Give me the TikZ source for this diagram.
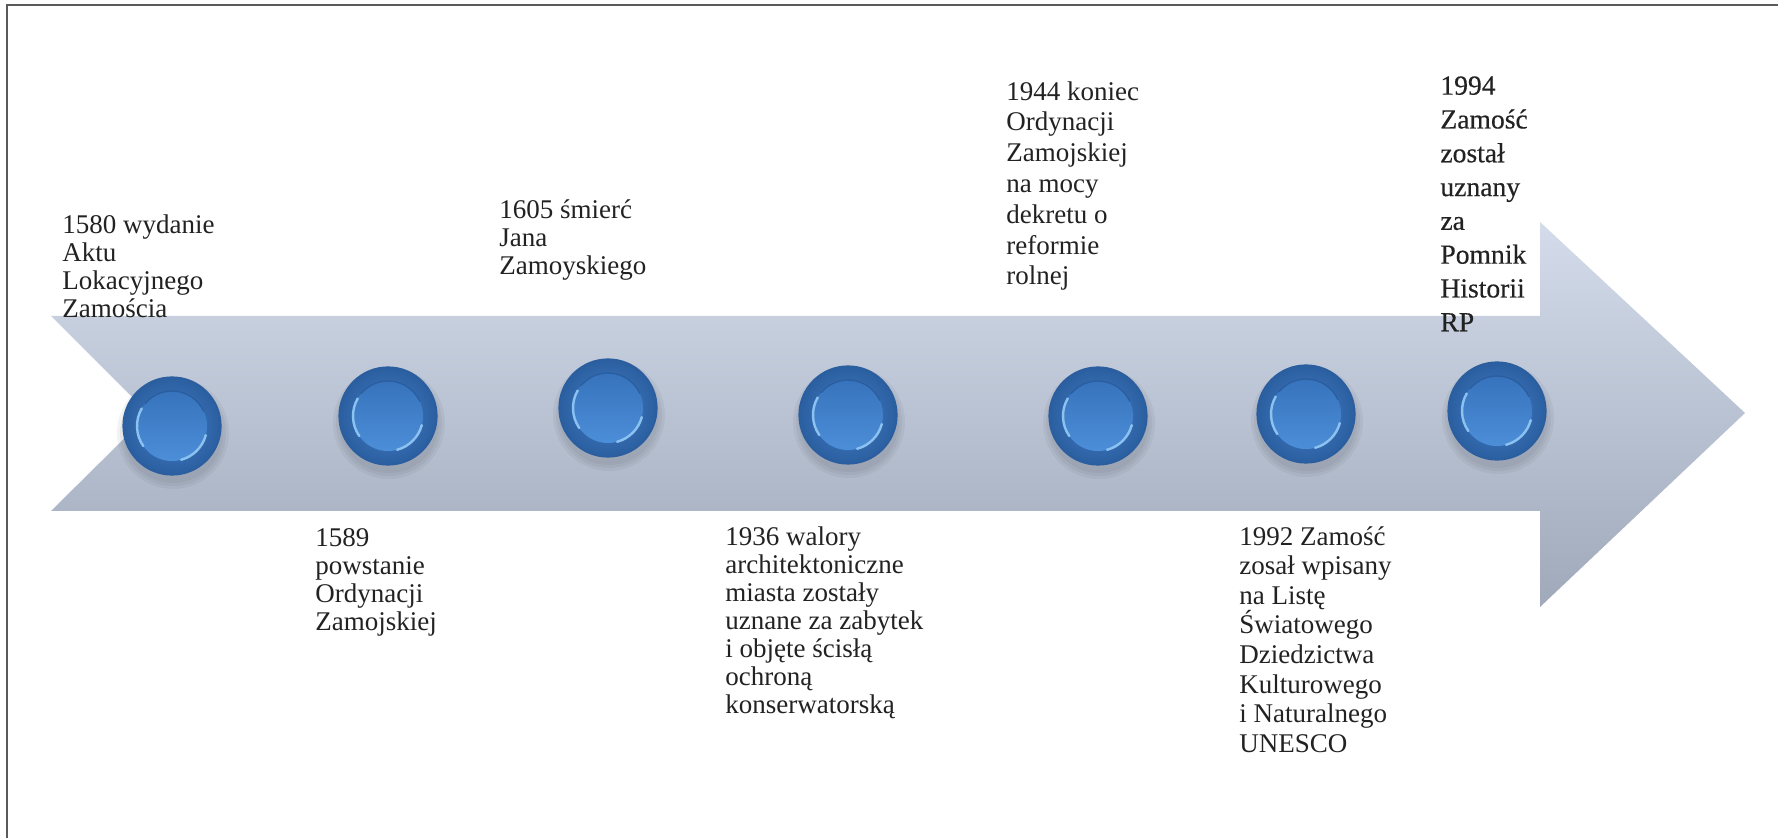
\documentclass[tikz,border=0pt]{standalone}
\usepackage{fontspec}
\setmainfont{Liberation Serif}
\usepackage{tikz}
\definecolor{tlcolor0}{HTML}{D4DCEB}
\definecolor{tlcolor1}{HTML}{9FA9BA}
\definecolor{tlcolor2}{HTML}{4784CD}
\definecolor{tlcolor3}{HTML}{2A5E9F}
\definecolor{tlcolor4}{HTML}{3673BC}
\definecolor{tlcolor5}{HTML}{4D8ED8}
\definecolor{tlcolor6}{HTML}{8CC2F0}
\definecolor{tlcolor7}{HTML}{222222}
\definecolor{tlcolor8}{HTML}{5A5A5A}
\definecolor{tlcolor9}{HTML}{4A4F5A}
\tikzset{
  frame_line/.style={draw=tlcolor8, line width=1pt},
  event_label/.style={anchor=north west, align=left, inner sep=0pt, text=tlcolor7, font=\fontsize{13.5pt}{#1}\selectfont, execute at begin node=\strut},
  event_label/.default=14pt,
  event_label_bold/.style={event_label=#1, font=\fontsize{13.8pt}{#1}\selectfont\addfontfeature{FakeBold=0.4}},
  dot_outer/.style={circle, minimum size=49pt, inner sep=0pt, draw=tlcolor3, line width=0.6pt, inner color=tlcolor2, outer color=tlcolor3},
  dot_inner/.style={top color=tlcolor4, bottom color=tlcolor5},
  dot_shine/.style={draw=tlcolor6, line width=1.2pt, line cap=round},
  dot_rim/.style={draw=tlcolor3, line width=0.7pt, line cap=round},
  dot_shadow/.style={fill=tlcolor9, opacity=0.07}
}

\begin{document}
\begin{tikzpicture}[x=0.5pt, y=-0.5pt]
\useasboundingbox (0,0) rectangle (1778,838);
\fill[white] (0,0) rectangle (1778,838);
% frame
\draw[frame_line] (1778,5) -- (7,5) -- (7,838);
% arrow
\shade[top color=tlcolor0, bottom color=tlcolor1]
  (51,316) -- (1540,316) -- (1540,222) -- (1745,413) -- (1540,607) -- (1540,511) -- (51,511) -- (149,414) -- cycle;
% dots
\foreach \n/\x/\y in {1/172/426, 2/388/416, 3/608/408, 4/848/415, 5/1098/416, 6/1306/414, 7/1497/411} {
  \begin{scope}[shift={(\x,\y)}, x=0.5pt, y=0.5pt]
    \foreach \r in {56,53,50} {\fill[dot_shadow] (1,-7) circle (\r);}
    \node[dot_outer] (dot_\n) at (0,0) {};
    \shade[dot_inner] (0,0) circle (35);
    \draw[dot_rim] (25:35) arc[start angle=25, end angle=140, radius=35];
    \draw[dot_shine] (150:35) arc[start angle=150, end angle=215, radius=35];
    \draw[dot_shine] (285:35) arc[start angle=285, end angle=345, radius=35];
  \end{scope}
}
% labels above
\node[event_label] (lbl_1580) at (62,214) {1580 wydanie\\Aktu\\Lokacyjnego\\Zamościa};
\node[event_label] (lbl_1605) at (499,199) {1605 śmierć\\Jana\\Zamoyskiego};
\node[event_label=15.4pt] (lbl_1944) at (1006,81) {1944 koniec\\Ordynacji\\Zamojskiej\\na mocy\\dekretu o\\reformie\\rolnej};
\node[event_label_bold=16.9pt] (lbl_1994) at (1440,76) {1994\\Zamość\\został\\uznany\\za\\Pomnik\\Historii\\RP};
% labels below
\node[event_label] (lbl_1589) at (315,528) {1589\\powstanie\\Ordynacji\\Zamojskiej};
\node[event_label] (lbl_1936) at (725,526) {1936 walory\\architektoniczne\\miasta zostały\\uznane za zabytek\\i objęte ścisłą\\ochroną\\konserwatorską};
\node[event_label=14.8pt] (lbl_1992) at (1239,526) {1992 Zamość\\zosał wpisany\\na Listę\\Światowego\\Dziedzictwa\\Kulturowego\\i Naturalnego\\UNESCO};
\end{tikzpicture}
\end{document}
